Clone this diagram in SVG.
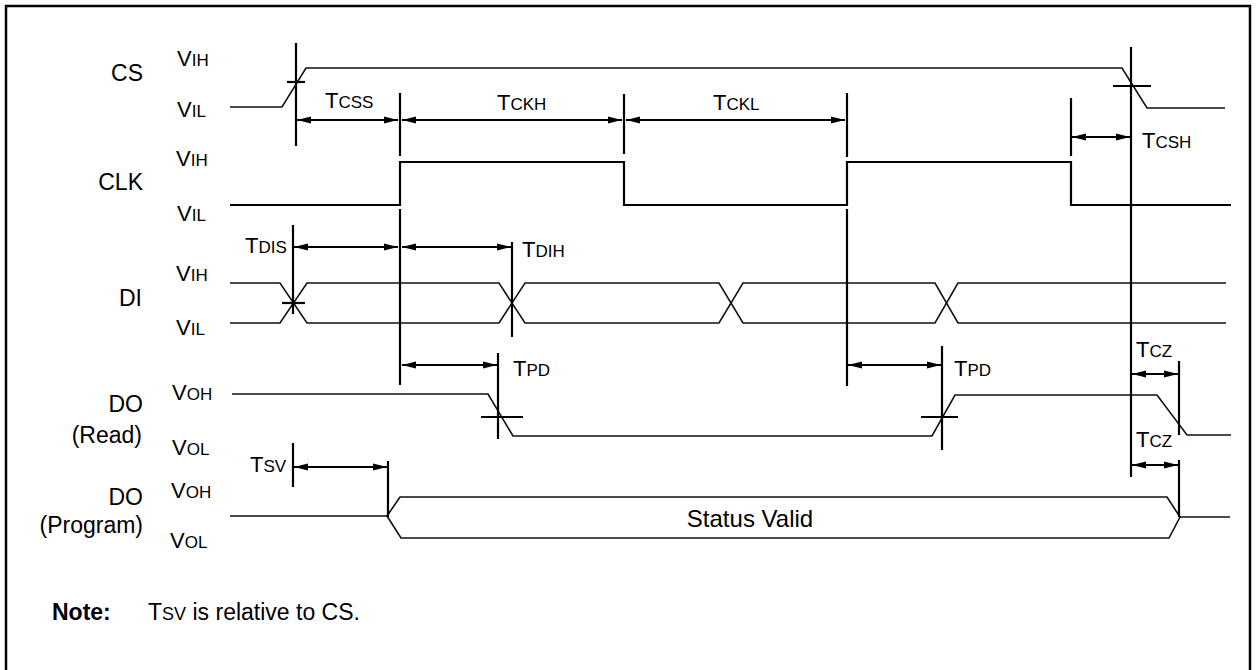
<svg xmlns="http://www.w3.org/2000/svg" width="1257" height="670" viewBox="0 0 1257 670">
<style>
text{font-family:"Liberation Sans",Arial,sans-serif;fill:#000}
.sig{font-size:23px}
.lv{font-size:22px}
.sm{font-size:17px}
.w{fill:none;stroke:#111;stroke-width:1.6;stroke-linejoin:miter}
.clk{fill:none;stroke:#000;stroke-width:2.2}
.m{stroke:#000;stroke-width:2.2}
.a{stroke:#000;stroke-width:2.2;marker-start:url(#ah);marker-end:url(#ah)}
</style>
<defs>
<marker id="ah" viewBox="0 0 14 8" refX="14" refY="4" markerWidth="14" markerHeight="8" markerUnits="userSpaceOnUse" orient="auto-start-reverse">
<path d="M0,0.6 L14,4 L0,7.4 Z" fill="#000"/>
</marker>
</defs>
<rect x="6" y="6" width="1244" height="690" fill="#fff" stroke="#000" stroke-width="2.5"/>

<g id="cs">
<text class="sig" x="143" y="81" text-anchor="end">CS</text>
<text class="lv" x="177" y="66">V<tspan class="sm">IH</tspan></text>
<text class="lv" x="177" y="117">V<tspan class="sm">IL</tspan></text>
<polyline class="w" points="230,107 282,107 306,68 1122,68 1147,108 1225,108"/>
</g>

<g id="clk">
<text class="sig" x="143" y="190" text-anchor="end">CLK</text>
<text class="lv" x="176" y="166">V<tspan class="sm">IH</tspan></text>
<text class="lv" x="177" y="221">V<tspan class="sm">IL</tspan></text>
<polyline class="clk" points="230,205 400,205 400,162 624,162 624,205 847,205 847,162 1071,162 1071,205 1231,205"/>
</g>

<g id="di">
<text class="sig" x="142" y="306" text-anchor="end">DI</text>
<text class="lv" x="176" y="281">V<tspan class="sm">IH</tspan></text>
<text class="lv" x="176" y="335">V<tspan class="sm">IL</tspan></text>
<polyline class="w" points="230,283 280,283 307,323 499,323 525,283 719,283 743,323 935,323 958,283 1226,283"/>
<polyline class="w" points="230,323 280,323 307,283 499,283 525,323 719,323 743,283 935,283 958,323 1226,323"/>
</g>

<g id="do-read">
<text class="sig" x="143" y="412" text-anchor="end">DO</text>
<text class="sig" x="142" y="443" text-anchor="end">(Read)</text>
<text class="lv" x="172" y="400">V<tspan class="sm">OH</tspan></text>
<text class="lv" x="172" y="455">V<tspan class="sm">OL</tspan></text>
<polyline class="w" points="232,394 488,394 513,436 932,436 955,395 1157,395 1187,435 1231,435"/>
</g>

<g id="do-program">
<text class="sig" x="143" y="505" text-anchor="end">DO</text>
<text class="sig" x="143" y="533" text-anchor="end">(Program)</text>
<text class="lv" x="171" y="498">V<tspan class="sm">OH</tspan></text>
<text class="lv" x="170" y="548">V<tspan class="sm">OL</tspan></text>
<polyline class="w" points="230,516 387,516"/>
<polygon class="w" points="387,516 400,497 1167,497 1180,517 1169,538 401,538"/>
<polyline class="w" points="1180,517 1230,517"/>
<text x="750" y="527" text-anchor="middle" font-size="24px">Status Valid</text>
</g>

<g id="connectors">
<line class="m" x1="296" y1="43" x2="296" y2="146"/>
<line class="m" x1="287" y1="82" x2="305" y2="82"/>
<line class="m" x1="1131" y1="47" x2="1131" y2="477"/>
<line class="m" x1="1113" y1="86" x2="1151" y2="86"/>
<line class="m" x1="400" y1="93" x2="400" y2="156"/>
<line class="m" x1="400" y1="209" x2="400" y2="385"/>
<line class="m" x1="624" y1="94" x2="624" y2="154"/>
<line class="m" x1="847" y1="93" x2="847" y2="157"/>
<line class="m" x1="847" y1="209" x2="847" y2="386"/>
<line class="m" x1="1071" y1="98" x2="1071" y2="156"/>
<line class="m" x1="293" y1="225" x2="293" y2="314"/>
<line class="m" x1="282" y1="303" x2="305" y2="303"/>
<line class="m" x1="512" y1="242" x2="512" y2="337"/>
<line class="m" x1="498" y1="353" x2="498" y2="439"/>
<line class="m" x1="481" y1="417" x2="523" y2="417"/>
<line class="m" x1="942" y1="346" x2="942" y2="450"/>
<line class="m" x1="921" y1="417" x2="958" y2="417"/>
<line class="m" x1="1179" y1="361" x2="1179" y2="435"/>
<line class="m" x1="1179" y1="460" x2="1179" y2="517"/>
<line class="m" x1="293" y1="443" x2="293" y2="487"/>
<line class="m" x1="388" y1="461" x2="388" y2="517"/>
<line class="a" x1="297" y1="120" x2="398" y2="120"/>
<line class="a" x1="402" y1="120" x2="622" y2="120"/>
<line class="a" x1="626" y1="120" x2="845" y2="120"/>
<line class="a" x1="1072" y1="137" x2="1130" y2="137"/>
<line class="a" x1="294" y1="247" x2="398" y2="247"/>
<line class="a" x1="402" y1="247" x2="511" y2="247"/>
<line class="a" x1="402" y1="365" x2="497" y2="365"/>
<line class="a" x1="848" y1="365" x2="941" y2="365"/>
<line class="a" x1="1132" y1="374" x2="1178" y2="374"/>
<line class="a" x1="1132" y1="465" x2="1178" y2="465"/>
<line class="a" x1="294" y1="467" x2="387" y2="467"/>
<text class="lv" x="325" y="108">T<tspan class="sm">CSS</tspan></text>
<text class="lv" x="497" y="110">T<tspan class="sm">CKH</tspan></text>
<text class="lv" x="713" y="110">T<tspan class="sm">CKL</tspan></text>
<text class="lv" x="1142" y="148">T<tspan class="sm">CSH</tspan></text>
<text class="lv" x="245" y="253">T<tspan class="sm">DIS</tspan></text>
<text class="lv" x="522" y="257">T<tspan class="sm">DIH</tspan></text>
<text class="lv" x="513" y="376">T<tspan class="sm">PD</tspan></text>
<text class="lv" x="954" y="376">T<tspan class="sm">PD</tspan></text>
<text class="lv" x="1136" y="357">T<tspan class="sm">CZ</tspan></text>
<text class="lv" x="1136" y="447">T<tspan class="sm">CZ</tspan></text>
<text class="lv" x="250" y="472">T<tspan class="sm">SV</tspan></text>
</g>

<g id="note">
<text x="52" y="620" font-size="23px" font-weight="bold">Note:</text>
<text x="148" y="620" font-size="23px">T<tspan font-size="18px">SV</tspan> is relative to CS.</text>
</g>
</svg>
